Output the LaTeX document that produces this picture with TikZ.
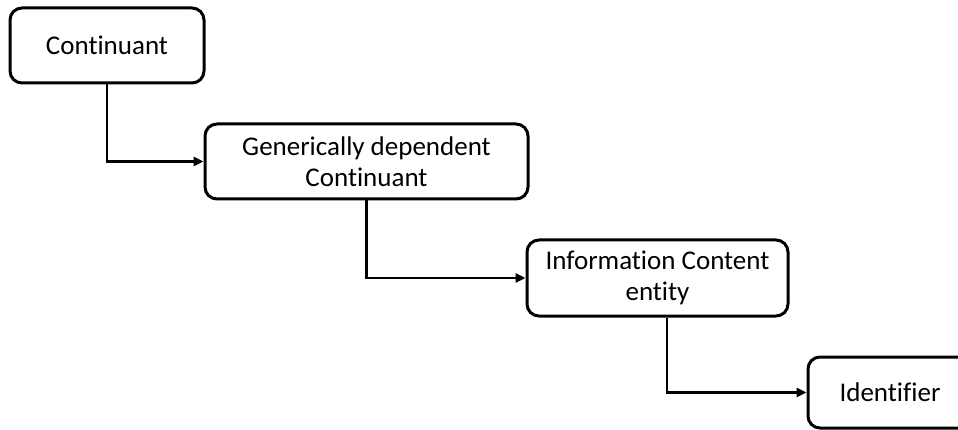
\documentclass[tikz,border=0pt]{standalone}
\usepackage{fontspec}
\setmainfont{Carlito}[Ligatures=NoCommon]
\usetikzlibrary{arrows.meta}
\begin{document}
\begin{tikzpicture}[x=1pt,y=-1pt,
  box/.style={draw=black, line width=3pt, rounded corners=12pt, fill=white,
    align=center, inner sep=0pt, font=\fontsize{27}{31}\selectfont},
  link/.style={draw=black, line width=2.6pt, -{Triangle[length=10pt,width=9pt]}}]
  \clip (0,0) rectangle (958,430);
  \fill[white] (0,0) rectangle (958,430);

  \node[box, minimum width=194pt, minimum height=75pt] (cont) at (107,45.5) {Continuant};
  \node[box, minimum width=323pt, minimum height=75pt] (gdc) at (366.5,161.5)
    {Generically dependent\\Continuant};
  \node[box, minimum width=261pt, minimum height=76pt] (ice) at (657.5,278)
    {Information Content\\entity};
  \node[box, minimum width=164pt, minimum height=71pt] (ident) at (890,392.5) {Identifier};

  \draw[link] (cont.south) |- (gdc.west);
  \draw[link] (gdc.south) |- (ice.west);
  \draw[link] ([xshift=9.5pt]ice.south) |- (ident.west);
\end{tikzpicture}
\end{document}
